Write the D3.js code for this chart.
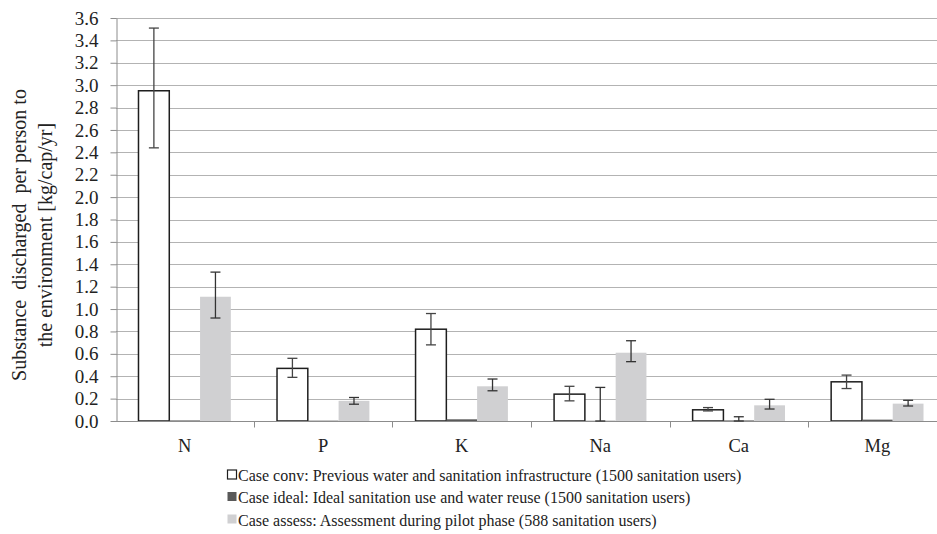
<!DOCTYPE html>
<html>
<head>
<meta charset="utf-8">
<script src="https://cdn.jsdelivr.net/npm/d3@7"></script>
<style>
  body { margin: 0; background: #fff; }
  text { font-family: "Liberation Serif", "Times New Roman", serif; fill: #222; }
</style>
</head>
<body>
<script>
// substances and values (kg/cap/yr)
let categories = ["N", "P", "K", "Na", "Ca", "Mg"];

let convValues = [2.95, 0.47, 0.82, 0.24, 0.10, 0.35];
let convLow = [2.44, 0.39, 0.68, 0.18, 0.09, 0.29];
let convHigh = [3.51, 0.56, 0.96, 0.31, 0.12, 0.41];

let idealValues = [0.005, 0.003, 0.015, 0.002, 0.005, 0.012];
let idealLow = [null, null, null, 0, 0, null];
let idealHigh = [null, null, null, 0.30, 0.038, null];

let assessValues = [1.11, 0.18, 0.31, 0.61, 0.14, 0.155];
let assessLow = [0.92, 0.15, 0.27, 0.53, 0.107, 0.134];
let assessHigh = [1.33, 0.21, 0.375, 0.717, 0.194, 0.185];

let yTicks = d3.range(0, 19).map(function (i) { return i * 0.2; });

let seriesNames = [
    "Case conv: Previous water and sanitation infrastructure (1500 sanitation users)",
    "Case ideal: Ideal sanitation use and water reuse (1500 sanitation users)",
    "Case assess: Assessment during pilot phase (588 sanitation users)"
];

let series = [
    { values: convValues, low: convLow, high: convHigh, fill: "#ffffff", stroke: "#1e1e1e", err: "#444" },
    { values: idealValues, low: idealLow, high: idealHigh, fill: "#595959", stroke: "none", err: "#333" },
    { values: assessValues, low: assessLow, high: assessHigh, fill: "#d0d0d2", stroke: "none", err: "#333" }
];

let width = 937, height = 534;
let plotLeft = 116, plotRight = 946.6, plotTop = 18, plotBottom = 421;

let svg = d3.select("body")
    .append("svg")
    .attr("width", width).attr("height", height);

let xScale = d3.scaleBand()
    .domain(categories)
    .range([plotLeft - 0.6, plotRight]);

let yScale = d3.scaleLinear()
    .domain([0, 3.6])
    .range([plotBottom, plotTop]);

// excel style: gap width 150% -> bar = band / 4.5
let barW = xScale.bandwidth() / 4.5;

// gridlines
svg.append("g")
    .selectAll("line")
    .data(yTicks.slice(1))
    .enter()
    .append("line")
    .attr("x1", plotLeft).attr("x2", width)
    .attr("y1", function (d) { return Math.round(yScale(d)) + 0.5; })
    .attr("y2", function (d) { return Math.round(yScale(d)) + 0.5; })
    .attr("stroke", "#b3b3b3")
    .attr("stroke-width", 1);

// y axis
let yAxis = svg.append("g")
    .attr("transform", "translate(" + (plotLeft + 0.5) + ",0)")
    .call(d3.axisLeft(yScale).tickValues(yTicks).tickFormat(d3.format(".1f")).tickSize(6).tickSizeOuter(0).tickPadding(12));
yAxis.select(".domain").attr("stroke", "#8c8c8c");
yAxis.selectAll(".tick line").attr("stroke", "#8c8c8c");
yAxis.selectAll(".tick text").attr("font-size", 19).style("font-family", "Liberation Serif").attr("fill", "#222");

// bars
series.forEach(function (s, si) {
    let g = svg.append("g");
    g.selectAll("rect")
        .data(s.values)
        .enter()
        .append("rect")
        .attr("x", function (d, i) { return xScale(categories[i]) + barW * (0.75 + si); })
        .attr("y", function (d) { return yScale(d); })
        .attr("width", barW)
        .attr("height", function (d) { return plotBottom - yScale(d); })
        .attr("fill", s.fill)
        .attr("stroke", s.stroke)
        .attr("stroke-width", 1.5);
});

// x axis
let xAxis = svg.append("g")
    .attr("transform", "translate(0," + (plotBottom + 0.5) + ")");
xAxis.append("line")
    .attr("x1", plotLeft).attr("x2", width)
    .attr("stroke", "#8c8c8c");
xAxis.selectAll("line.tk")
    .data(categories.slice(1))
    .enter()
    .append("line")
    .attr("class", "tk")
    .attr("x1", function (d) { return Math.round(xScale(d)) + 0.5; })
    .attr("x2", function (d) { return Math.round(xScale(d)) + 0.5; })
    .attr("y1", 0).attr("y2", 6)
    .attr("stroke", "#8c8c8c");
xAxis.selectAll("text")
    .data(categories)
    .enter()
    .append("text")
    .attr("x", function (d) { return xScale(d) + xScale.bandwidth() / 2; })
    .attr("y", 30)
    .attr("text-anchor", "middle")
    .attr("font-size", 18.5)
    .text(function (d) { return d; });

// error bars
series.forEach(function (s, si) {
    let g = svg.append("g").attr("stroke", s.err).attr("stroke-width", 1.3);
    s.values.forEach(function (v, i) {
        if (s.low[i] === null) return;
        let cx = xScale(categories[i]) + barW * (1.25 + si);
        let y1 = yScale(s.low[i]), y2 = yScale(s.high[i]);
        g.append("line").attr("x1", cx).attr("x2", cx).attr("y1", y1).attr("y2", y2);
        g.append("line").attr("x1", cx - 5).attr("x2", cx + 5).attr("y1", y1).attr("y2", y1);
        g.append("line").attr("x1", cx - 5).attr("x2", cx + 5).attr("y1", y2).attr("y2", y2);
    });
});

// y title
let yTitle = svg.append("text")
    .attr("transform", "translate(0,235) rotate(-90)")
    .attr("text-anchor", "middle")
    .attr("font-size", 20)
    .style("white-space", "pre");
yTitle.append("tspan").attr("x", 0).attr("y", 26).text("Substance  discharged  per person to");
yTitle.append("tspan").attr("x", 0).attr("y", 52).text("the environment [kg/cap/yr]");

// legend
let legend = svg.append("g")
    .selectAll("g")
    .data(seriesNames)
    .enter()
    .append("g")
    .attr("transform", function (d, i) { return "translate(227," + [475, 497, 519.5][i] + ")"; });
legend.append("rect")
    .attr("x", 0.5).attr("y", -5)
    .attr("width", 9).attr("height", 9)
    .attr("fill", function (d, i) { return series[i].fill; })
    .attr("stroke", function (d, i) { return i === 0 ? "#1e1e1e" : "none"; })
    .attr("stroke-width", 1.2);
legend.append("text")
    .attr("x", 11)
    .attr("y", 6)
    .attr("font-size", 16)
    .text(function (d) { return d; });
</script>
</body>
</html>
